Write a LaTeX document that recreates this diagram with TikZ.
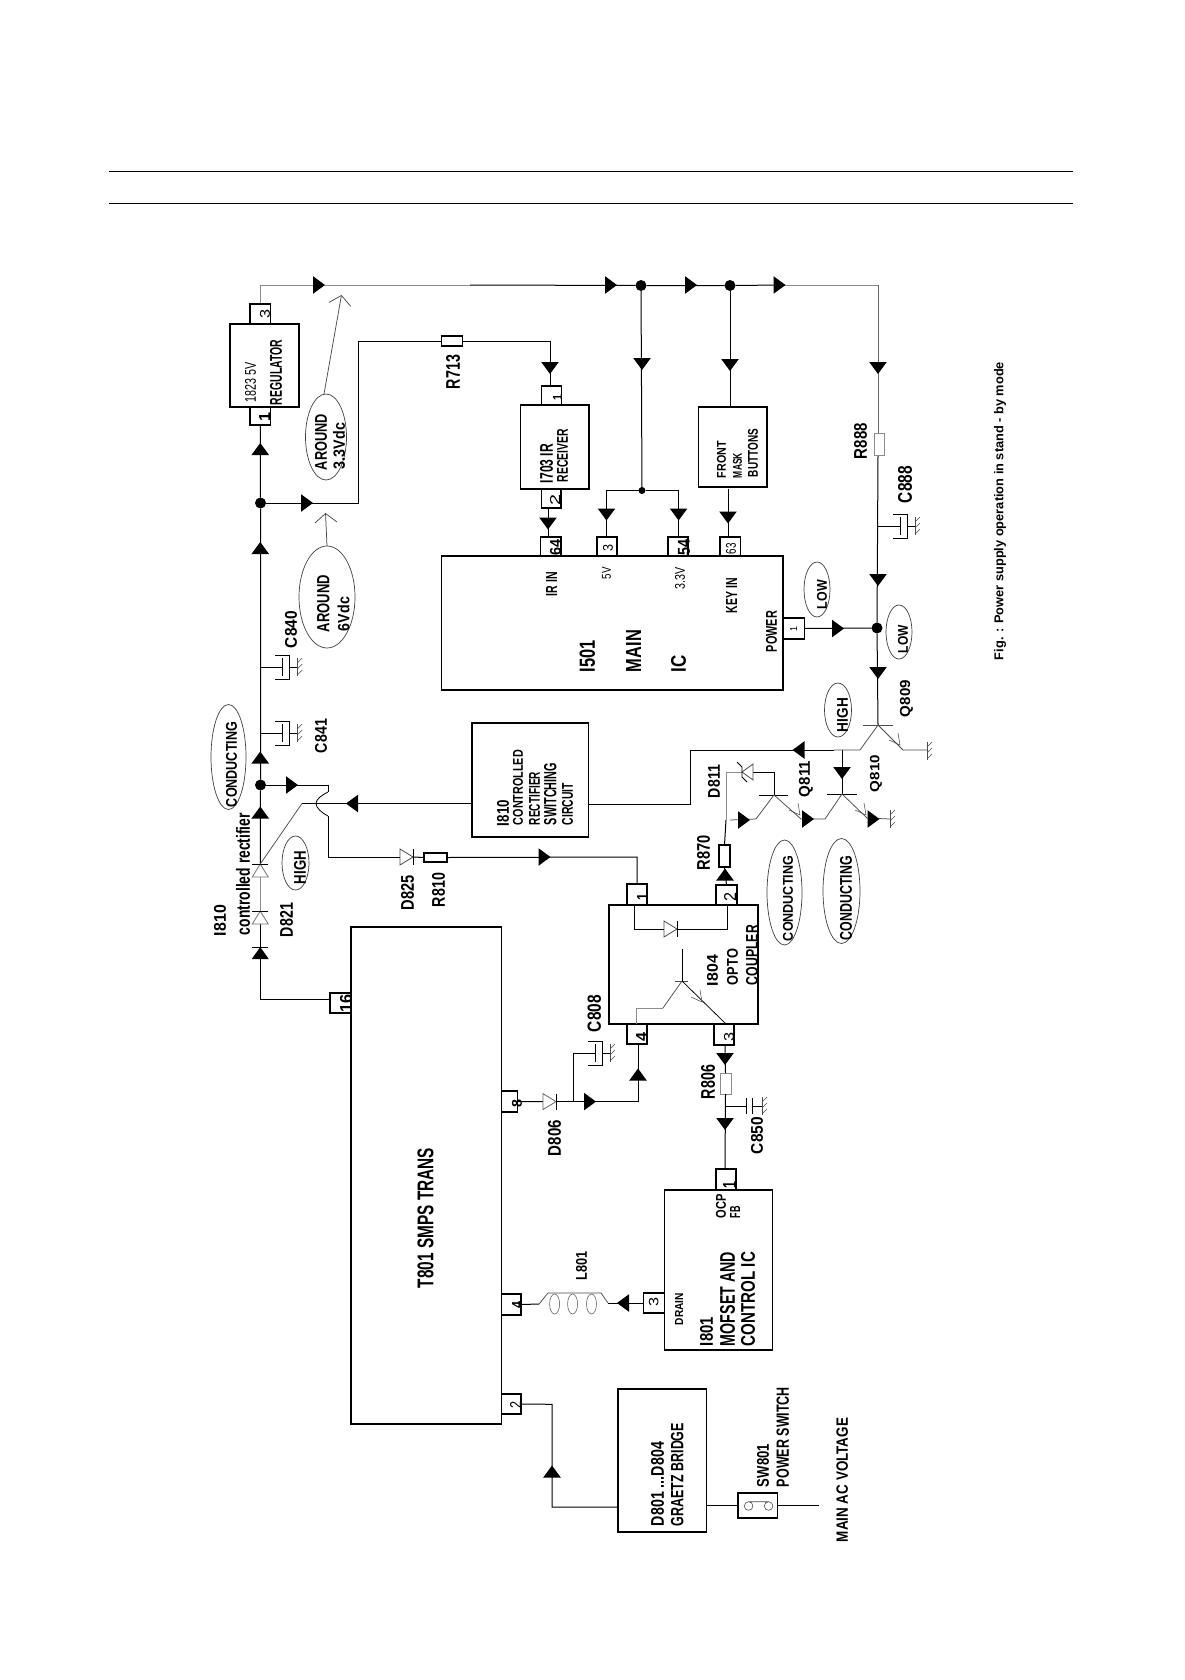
\documentclass[tikz,border=0pt]{standalone}
\usepackage{fontspec}
\setmainfont{Liberation Sans}
\usetikzlibrary{shapes.geometric,arrows.meta}
\newcounter{lbn}
\tikzset{
  wire/.style={line width=1pt,black},
  grw/.style={line width=1pt,black!45},
  thn/.style={line width=0.75pt,black!70},
  boxn/.style={draw=black,line width=1.1pt,inner sep=0pt,outer sep=0pt,fill=white},
  resg/.style={draw=black!45,line width=1pt,inner sep=0pt,outer sep=0pt,fill=white},
  dotn/.style={circle,fill=black,inner sep=0pt,outer sep=0pt,minimum size=#1},
  lab/.style={rotate=90,inner sep=0pt,outer sep=0pt,anchor=center},
  ovl/.style={ellipse,draw=black!75,line width=0.7pt,inner sep=0pt,outer sep=0pt},
  openarrow/.style={thn,-{Straight Barb[length=9pt,width=22pt]}}
}
% box from pixel corners
\newcommand\bx[6][boxn]{\node[#1,minimum width={(#5-(#3))*1pt},minimum height={(#6-(#4))*1pt}] (#2) at ({(#3+#5)/2},{(#4+#6)/2}) {};}
% rotated labels fitted to pixel span
\newcommand\lbb[5]{\stepcounter{lbn}\pgfmathsetmacro\cxx{(#1+#2)/2}\pgfmathsetmacro\cyy{(#3+#4)/2}\pgfmathsetmacro\ll{#4-(#3)}\pgfmathsetmacro\hh{#2-(#1)}\node[lab] (t\thelbn) at (\cxx,\cyy) {\resizebox*{\ll pt}{\hh pt}{\bfseries #5}};}
\newcommand\lbr[5]{\stepcounter{lbn}\pgfmathsetmacro\cxx{(#1+#2)/2}\pgfmathsetmacro\cyy{(#3+#4)/2}\pgfmathsetmacro\ll{#4-(#3)}\pgfmathsetmacro\hh{#2-(#1)}\node[lab] (t\thelbn) at (\cxx,\cyy) {\resizebox*{\ll pt}{\hh pt}{#5}};}
\newcommand\ovn[5]{\node[ovl,minimum width={2*#4*1pt},minimum height={2*#5*1pt}] (#1) at (#2,#3) {};}
% filled arrow head: x y screen-angle
\newcommand\arw[3]{\fill[shift={(#1,#2)},rotate=#3] (6,0)--(-6,8.8)--(-6,-8.8)--cycle;}
% open diode: x y angle colour
\newcommand\dio[4]{\begin{scope}[shift={(#1,#2)},rotate=#3]\draw[line width=0.8pt,#4,fill=white] (6.5,0)--(-6.5,8)--(-6.5,-8)--cycle;\draw[line width=1pt,black] (6.5,8)--(6.5,-8);\end{scope}}
% ground: x y
\newcommand\gnd[2]{\begin{scope}[shift={(#1,#2)}]\draw[thn] (0,-9)--(0,9);\draw[line width=0.5pt,black!70] (5,-9)--(0,-4) (5,-3)--(0,2) (5,3)--(0,8);\end{scope}}
% capacitor tapped from a wire: x y
\newcommand\capa[2]{\begin{scope}[shift={(#1,#2)}]\draw[wire,line width=0.9pt] (0,0)--(22,0) (22,-9)--(22,9) (15,-12)--(29,-12)--(29,12)--(15,12) (29,0)--(37,0);\end{scope}\gnd{#1+37}{#2}}
% emitter barbs: tip
\newcommand\barb[2]{\draw[line width=0.55pt,black!70,shift={(#1,#2)}] (-11,-5)--(0,0)--(-2,-12);}
\begin{document}
\begin{tikzpicture}[x=1pt,y=-1pt]
\useasboundingbox (0,0) rectangle (1184,1680);
\fill[white] (0,0) rectangle (1184,1680);
% page rules
\coordinate (ra) at (109,172); \coordinate (rb) at (1073,172);
\coordinate (rc) at (109,204); \coordinate (rd) at (1073,204);
\draw[line width=1pt] (ra)--(rb) (rc)--(rd);

% ---- junction dots and named corners
\node[dotn=11] (dA) at (260.5,503) {};
\node[dotn=11] (dB) at (260.5,785) {};
\node[dotn=11] (d1) at (641,285.5) {};
\node[dotn=11] (d2) at (730,285.5) {};
\node[dotn=11] (dL) at (877,628) {};
\node[dotn=7] (dj) at (642,490.5) {};
\coordinate (topL) at (260.25,285);
\coordinate (topG) at (470,285);
\coordinate (topH) at (785,285);
\coordinate (topR) at (878,285);
\coordinate (cE) at (358.5,503);
\coordinate (cF) at (358.5,341);

% ---- wires behind boxes
\draw[grw] (260.25,304)--(topL)--(topG);
\draw[wire] (topG)--(d1)--(d2)--(topH);
\draw[grw] (topH)--(topR);
\draw[grw,black!60] (topR)--(878,433);
\draw[wire] (d1)--(dj);
\draw[wire] (dA)--(cE)--(cF)--(441,341);
\draw[wire] (260.25,425)--(dA)--(dB)--(260.25,864);
\draw[grw] (260.25,877)--(260.25,912);
\draw[wire] (260.25,923)--(260.25,999)--(330,999);
\draw[wire] (878,455)--(dL)--(878,725);
\draw[wire] (462,341)--(550,341)--(550,386);
\draw[wire] (d2)--(730,407);
\draw[wire] (dj)-|(606.5,537);
\draw[wire] (dj)-|(678.6,537);
\draw[wire] (548,508)--(548,537);
\draw[wire] (728,489)--(728,537);
\draw[wire] (804,628.5)--(dL);

% ---- main blocks
\bx{reg}{230}{324}{299}{407}
\bx{pR3}{250}{304}{270.5}{324}
\bx{pR1}{250}{407}{270.5}{425}
\bx{ir}{520.5}{405}{589}{489}
\bx{pI1}{541.5}{386}{561.5}{405}
\bx{pI2}{541.5}{489}{561}{508}
\bx{front}{698.6}{407}{767}{487}
\bx{mainic}{441.5}{556}{783}{690}
\bx{p64}{540.5}{537}{561}{556}
\bx{p5}{597}{537}{617}{556}
\bx{p54}{668}{537}{688}{556}
\bx{p63}{720}{537}{740.5}{556}
\bx{pP}{783}{618}{804.5}{639}
\bx{sc}{472}{723}{588.5}{837}
\bx{opto}{609}{905}{758}{1024}
\bx{pO1}{627}{884}{647}{905}
\bx{pO2}{716}{885}{737}{905}
\bx{pO4}{627}{1024}{647}{1044}
\bx{pO3}{714}{1024}{734}{1045}
\bx{trans}{351}{927}{501.5}{1424}
\bx{p16}{330}{993}{351}{1013}
\bx{p8}{501.5}{1091}{517.5}{1112}
\bx{pT4}{501.5}{1294}{521}{1315}
\bx{pT2}{501.5}{1394}{521}{1414}
\bx{mos}{664.6}{1190}{772.5}{1350}
\bx{pF1}{716}{1169}{736}{1190}
\bx{pD3}{643.6}{1293}{664.6}{1313}
\bx{bridge}{618}{1389}{706.4}{1532}
\bx{sw}{738}{1493}{777.5}{1518}
% resistors
\bx{r713}{441.5}{336}{462.5}{346}
\bx[resg]{r888}{874}{433}{884}{455}
\bx{r810}{424}{853}{447}{862}
\bx{r870}{719}{845}{730}{867}
\bx[resg]{r806}{720}{1073}{731}{1094}

% ---- capacitors
\capa{260.25}{667}
\capa{260.25}{733}
\capa{878}{526}
\capa{573}{1053}

% ---- lower left wiring
\coordinate (cHa) at (328,785);
\coordinate (cHb) at (328,792);
\coordinate (cHc) at (316,803.5);
\coordinate (cHd) at (328,816);
\coordinate (cHe) at (328,857);
\coordinate (cGa) at (302,803.5);
\coordinate (cGb) at (260.25,864);
\draw[wire] (dB)--(cHa)--(cHb);
\draw[wire,line width=0.8pt] (cHb) .. controls (322,795) and (316,799) .. (cHc) .. controls (316,808) and (322,813) .. (cHd);
\draw[wire] (cHd)--(cHe)--(400,857);
\draw[wire] (413,857)--(r810.west);
\draw[wire] (r810.east)--(637,857)--(637,884);
\coordinate (scL) at (472,803.5);
\coordinate (scR) at (588.5,804);
\draw[wire] (scL)--(cGa);
\draw[thn] (cGa)--(cGb);
\draw[wire] (scR)--(690.4,804)--(690.4,750)--(834,750);

% ---- transistors
\coordinate (q0) at (878,725);
\coordinate (q1) at (842,794);
\coordinate (q2) at (774,795);
\coordinate (qj) at (842,750);
\draw[wire] (qj)--(q1);
\draw[thn] (863,725)--(893,725);
\draw[thn] (834,750)--(860,750)--(q0)--(903,750)--(927,750);
\gnd{927}{751}
\barb{900}{745}
\draw[wire] (827,794)--(857,794);
\draw[thn] (814,819)--(825,819)--(q1)--(867,818)--(890,819);
\gnd{890}{819}
\barb{866}{815}
\draw[wire] (759,795)--(788,795);
\draw[thn] (730,820)--(756,819)--(q2)--(801,819)--(814,819);
\barb{800}{815}
\draw[wire] (q2)--(774,772)--(753,772);
\draw[grw] (726,820)--(726,772)--(742,772);
\draw[wire] (726,820)--(r870.north);
\draw[wire] (r870.south)--(pO2.north);
\draw[line width=0.8pt,black!70,fill=white] (742,772)--(753,764)--(753,780)--cycle;
\draw[line width=0.8pt] (737,762)--(742,767)--(742,777)--(747,782);

% ---- inside opto
\coordinate (oa) at (634,905);
\coordinate (ob) at (634,929);
\coordinate (oc) at (727,929);
\coordinate (od) at (727,905);
\draw[wire] (oa)--(ob)--(oc)--(od);
\dio{670.5}{929}{0}{black!70}
\coordinate (oq) at (682,981);
\draw[thn,black] (682,949)--(oq);
\draw[thn] (675,981)--(688,981);
\draw[thn] (oq)--(663,1008);
\draw[grw] (663,1008)--(636,1008)--(636,1024);
\draw[thn,black] (oq)--(726,1024);
\barb{702}{1002}

% ---- right of trans
\draw[wire] (p8.east)--(543,1101.6);
\draw[wire] (556,1101.6)--(638,1101.6)--(638,1044);
\draw[wire] (573,1053)--(573,1101.6);
\draw[wire] (725,1045)--(r806.north);
\draw[wire] (r806.south)--(725,1169);
\draw[wire,line width=0.9pt] (725,1106)--(746,1106);
\draw[wire,line width=0.9pt] (746.5,1098)--(746.5,1114) (752.5,1098)--(752.5,1114) (752.5,1106)--(762,1106);
\gnd{762}{1106}
% coil
\coordinate (la) at (539,1304);
\coordinate (lb) at (548,1293);
\coordinate (lc) at (601,1293);
\coordinate (ld) at (608,1303);
\draw[wire] (pT4.east)--(la);
\draw[thn] (la)--(lb)--(lc)--(ld);
\draw[wire] (ld)--(pD3.west);
\draw[line width=0.6pt,black!60] (554.6,1304) ellipse (5 and 10) (572.6,1304) ellipse (5 and 10) (591.5,1304) ellipse (5 and 10);
% bridge
\coordinate (ba) at (552,1404.3);
\coordinate (bb) at (552,1507);
\coordinate (bc) at (618,1507);
\draw[wire] (pT2.east)--(ba)--(bb)--(bc);
\draw[wire] (706.4,1505)--(738,1505);
\coordinate (acin) at (818.6,1505);
\draw[wire] (777.5,1505)--(acin);
\draw[line width=0.6pt,black!70] (748.6,1506) circle (4.3) (768.6,1506) circle (4.3) (748.6,1501.7)--(768.6,1501.7);

% ---- arrow heads
\arw{319}{285}{0}\arw{611}{285}{0}\arw{691}{285}{0}\arw{779.5}{285}{0}
\arw{260.25}{449}{90}\arw{260.25}{548}{90}\arw{260.25}{757.5}{90}\arw{260.25}{812.5}{90}
\arw{307}{503}{0}\arw{550}{368}{-90}\arw{642}{364}{-90}\arw{730}{365}{-90}\arw{878}{368}{-90}
\arw{606.5}{514.5}{-90}\arw{678.6}{514.5}{-90}\arw{548}{523.5}{-90}\arw{728}{517.5}{-90}
\arw{878}{580}{-90}\arw{878}{673}{-90}\arw{838}{628.5}{0}
\arw{798.5}{750}{180}\arw{842}{773}{-90}
\arw{744}{820}{0}\arw{808}{819}{0}\arw{873.5}{819}{0}
\arw{352}{803.5}{180}\arw{292}{785}{0}\arw{544.5}{857}{0}
\arw{725}{874.5}{90}\arw{725}{1059}{-90}\arw{725}{1124}{-90}\arw{590}{1101.6}{0}
\arw{638}{1074.5}{90}\arw{623}{1303}{180}\arw{552}{1471.5}{90}
% diodes
\dio{260.25}{870.5}{90}{black!55}
\dio{260.25}{917.5}{90}{black!55}
\begin{scope}[shift={(260.25,953)}]\fill (0,-6)--(8.5,6)--(-8.5,6)--cycle;\draw[line width=1pt] (-8,-6)--(8,-6);\end{scope}
\dio{406.5}{857}{0}{black!70}
\dio{549.5}{1101.6}{0}{black!60}

% ---- annotation ellipses
\ovn{e33}{326}{437}{20.5}{43}
\ovn{e6}{327}{597}{28}{51}
\coordinate (e33t) at (341.5,295);
\coordinate (e6t) at (325.5,513);
\draw[openarrow] (324,394)--(e33t);
\draw[openarrow] (e6.north)--(e6t);
\ovn{eC1}{228.5}{757}{17.5}{52.5}
\ovn{eC2}{784.5}{892.5}{17.5}{52.5}
\ovn{eC3}{841.5}{891}{18.5}{52.5}
\ovn{eH1}{295.5}{863}{13.5}{27}
\ovn{eH2}{838}{710}{13.5}{27}
\ovn{eL1}{817}{589.5}{13}{27.5}
\ovn{eL2}{899}{632}{13}{27}

% ---- labels
\lbr{245}{256}{362}{402}{1823 5V}
\lbb{270}{282}{340}{405}{REGULATOR}
\lbr{260}{270}{309}{318}{3}
\lbb{259}{270}{412}{421}{1}
\lbb{315}{327}{414}{470}{AROUND}
\lbb{333}{345}{423}{469}{3.3Vdc}
\lbb{317}{329.5}{575}{632}{AROUND}
\lbb{337.5}{349.5}{597}{631}{6Vdc}
\lbb{285}{297}{611}{648}{C840}
\lbb{315}{327}{719}{753}{C841}
\lbb{446}{460}{355}{389}{R713}
\lbb{854}{867}{423}{459}{R888}
\lbb{898}{912}{466}{503}{C888}
\lbb{540}{553}{444}{483}{I703 IR}
\lbb{557}{568}{429}{482}{RECEIVER}
\lbb{553}{562}{394}{400}{1}
\lbr{550}{560}{494}{505}{2}
\lbb{550}{561}{539}{555}{64}
\lbr{603}{613}{544}{551}{3}
\lbb{678}{690}{539}{555}{54}
\lbr{726}{736}{543}{554}{63}
\lbr{790}{797}{626}{631}{1}
\lbb{546}{557}{572}{596}{IR IN}
\lbr{602}{611}{567}{579}{5V}
\lbr{675}{685}{567}{589}{3.3V}
\lbb{726}{737}{578}{613}{KEY IN}
\lbb{766}{777}{611}{652}{POWER}
\lbb{579.5}{595}{640}{672}{I501}
\lbb{626}{641}{630}{672}{MAIN}
\lbb{671}{686}{655}{672}{IC}
\lbb{717}{726}{441}{478}{FRONT}
\lbb{733}{742}{453}{478}{MASK}
\lbb{748}{758}{429}{477}{BUTTONS}
\lbb{817}{827}{580}{609}{LOW}
\lbb{898}{908}{625}{653}{LOW}
\lbb{837}{848}{698}{732}{HIGH}
\lbb{294}{306}{851}{884}{HIGH}
\lbb{226}{237}{722}{807}{CONDUCTING}
\lbb{783}{793}{856}{941}{CONDUCTING}
\lbb{840}{852}{856}{940}{CONDUCTING}
\lbb{236}{250}{813}{935}{controlled rectifier}
\lbb{214}{226}{905}{936}{I810}
\lbb{280}{293}{903}{937}{D821}
\lbb{401}{414}{875}{910}{D825}
\lbb{432}{445}{873}{907}{R810}
\lbb{697}{710}{835}{870}{R870}
\lbb{708}{720}{765}{798}{D811}
\lbb{799}{813}{761}{797}{Q811}
\lbb{870}{882}{755}{792}{Q810}
\lbb{900}{913}{680}{717}{Q809}
\lbb{497}{509}{800}{826}{I810}
\lbb{513}{523}{750}{825}{CONTROLLED}
\lbb{529}{540}{772}{825}{RECTIFIER}
\lbb{544}{556.5}{763}{825}{SWITCHING}
\lbb{562}{573}{783}{825}{CIRCUIT}
\lbb{707}{718}{955}{986}{I804}
\lbb{727}{738}{949}{985}{OPTO}
\lbb{746}{758}{925}{985}{COUPLER}
\lbb{637}{648}{893}{900}{1}
\lbr{724}{736}{892}{901}{2}
\lbb{636}{647}{1032}{1041}{4}
\lbr{724}{734}{1032}{1041}{3}
\lbb{587.5}{601}{995}{1032}{C808}
\lbb{548}{561}{1120}{1156}{D806}
\lbb{701}{715}{1065}{1099}{R806}
\lbb{751}{763}{1117}{1154}{C850}
\lbb{340}{352}{994}{1012}{16}
\lbb{512}{522}{1099}{1107}{8}
\lbb{512}{522}{1301}{1308}{4}
\lbr{510}{521}{1401}{1408}{2}
\lbr{649}{658.6}{1297}{1306}{3}
\lbb{723}{736}{1181}{1188}{1}
\lbb{417.5}{433.6}{1148}{1288}{T801  SMPS TRANS}
\lbb{716}{726}{1194}{1218}{OCP}
\lbb{730}{740}{1206}{1218}{FB}
\lbb{675}{683}{1293}{1325}{DRAIN}
\lbb{700}{713}{1317}{1346}{I801}
\lbb{720}{735}{1252}{1346}{MOFSET AND}
\lbb{741}{755}{1252}{1346}{CONTROL IC}
\lbb{576}{587}{1251}{1280}{L801}
\lbb{651}{664}{1442}{1526}{D801 ...D804}
\lbb{671}{683.6}{1423}{1526}{GRAETZ BRIDGE}
\lbb{757}{769}{1444}{1487}{SW801}
\lbb{776.5}{789}{1387}{1487}{POWER SWITCH}
\lbb{836.4}{848}{1418}{1542}{MAIN AC VOLTAGE}
\lbb{994}{1006}{362}{660}{Fig. : Power  supply operation in stand - by mode}
\end{tikzpicture}
\end{document}
